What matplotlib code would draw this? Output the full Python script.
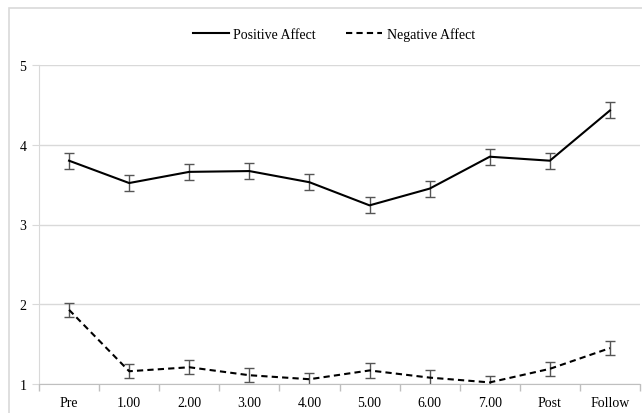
import matplotlib
matplotlib.use("Agg")
import matplotlib.pyplot as plt
import numpy as np

sessions = ["Pre", "1.00", "2.00", "3.00", "4.00", "5.00", "6.00", "7.00", "Post", "Follow"]
positive = [3.80, 3.52, 3.66, 3.67, 3.53, 3.24, 3.45, 3.85, 3.80, 4.43]
positive_err = [0.10, 0.10, 0.10, 0.10, 0.10, 0.10, 0.10, 0.10, 0.10, 0.10]
negative = [1.93, 1.16, 1.21, 1.11, 1.06, 1.17, 1.08, 1.02, 1.19, 1.45]
negative_err = [0.09, 0.09, 0.09, 0.09, 0.08, 0.09, 0.09, 0.08, 0.09, 0.09]

plt.rcParams['font.family'] = ['Liberation Serif', 'DejaVu Serif']

fig = plt.figure(figsize=(6.42, 4.14), dpi=100)
# light outer frame of the original chart area
fig.patches.append(plt.Rectangle((9 / 642, -0.1), 1.0, 1 - 9 / 414 + 0.1,
                                 transform=fig.transFigure, fill=False,
                                 edgecolor='#d9d9d9', linewidth=1.2))

ax = fig.add_axes([39 / 642, 29 / 414, 601 / 642, 319 / 414])
x = np.arange(len(sessions))

ax.errorbar(x, positive, yerr=positive_err, color='black', lw=1.5,
            ecolor='#555555', elinewidth=1.0, capsize=3.5, capthick=1.0,
            label='Positive Affect')
ax.errorbar(x, negative, yerr=negative_err, color='black', lw=1.5, ls=(0, (3, 2)),
            ecolor='#555555', elinewidth=1.0, capsize=3.5, capthick=1.0,
            label='Negative Affect')

ax.set_xlim(-0.5, len(sessions) - 0.5)
ax.set_ylim(1, 5)
ax.set_yticks([1, 2, 3, 4, 5])
ax.yaxis.grid(True, color='#d9d9d9', lw=1.0)
ax.set_axisbelow(True)

ax.set_xticks(x)
ax.set_xticklabels(sessions, fontsize=10)
ax.set_xticks(np.arange(-0.5, len(sessions), 1), minor=True)
ax.tick_params(axis='x', which='major', length=0, pad=9)
ax.tick_params(axis='x', which='minor', length=5, color='#bfbfbf', width=1)
ax.tick_params(axis='y', length=5, color='#d9d9d9', labelsize=10, pad=4)

for s in ['top', 'right']:
    ax.spines[s].set_visible(False)
ax.spines['left'].set_color('#d9d9d9')
ax.spines['bottom'].set_color('#bfbfbf')

handles, labels = ax.get_legend_handles_labels()
handles = [h[0] for h in handles]
fig.legend(handles, labels, loc='center', bbox_to_anchor=(0.52, 0.916), ncol=2,
           frameon=False, fontsize=10, handlelength=2.6, columnspacing=2.2,
           handletextpad=0.3)

fig.savefig('out.png', dpi=100)
